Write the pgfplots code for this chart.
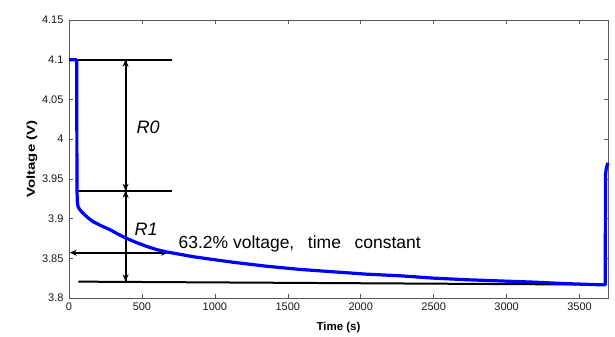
\documentclass[border=0pt]{standalone}
\usepackage{pgfplots}
\pgfplotsset{compat=1.18}
\usepackage{fontspec}
\setmainfont{Liberation Sans}
\usetikzlibrary{arrows.meta}
\begin{document}
\begin{tikzpicture}
\begin{axis}[
  scale only axis,
  width=539pt, height=278pt,
  xmin=0, xmax=3695, ymin=3.8, ymax=4.15,
  xtick={0,500,...,3500},
  ytick={3.8,3.85,3.9,3.95,4,4.05,4.1,4.15},
  yticklabels={3.8,3.85,3.9,3.95,4,4.05,4.1,4.15},
  /pgf/number format/1000 sep={},
  /pgf/number format/assume math mode=true,
  tick align=inside,
  major tick length=4pt,
  tick style={gray!70!black, line width=0.6pt},
  axis line style={gray!70!black, line width=0.8pt},
  ticklabel style={font=\fontsize{11}{12}\selectfont, text=black!90},
  xticklabel style={yshift=-1pt},
  yticklabel style={xshift=-2pt},
  xlabel={\bfseries Time (s)},
  ylabel={\scalebox{1.3}[1]{\bfseries Voltage (V)}},
  label style={font=\fontsize{11.5}{13}\selectfont},
  xlabel style={yshift=-5pt},
  ylabel style={yshift=-2pt},
  clip=false,
]
% annotation lines
\addplot[black, line width=2pt] coordinates {(50,4.1) (707,4.1)};
\addplot[black, line width=2pt] coordinates {(53,3.935) (707,3.935)};
\addplot[black, line width=2pt] coordinates {(64,3.8206) (3680,3.8168)};
\addplot[black, line width=2pt, -{Stealth[length=7pt,width=6pt]}] coordinates {(388,3.935) (388,4.1)};
\addplot[black, line width=2pt, -{Stealth[length=7pt,width=6pt]}] coordinates {(388,4.1) (388,3.935)};
\addplot[black, line width=2pt, -{Stealth[length=7pt,width=6pt]}] coordinates {(388,3.821) (388,3.935)};
\addplot[black, line width=2pt, -{Stealth[length=7pt,width=6pt]}] coordinates {(388,3.935) (388,3.821)};
\addplot[black, line width=2pt, {Stealth[length=7pt,width=6pt]}-{Stealth[length=7pt,width=6pt]}] coordinates {(5,3.857) (680,3.857)};
% measured voltage
\addplot[blue, line width=3.2pt, line join=round] coordinates {
(0,4.100) (50,4.100) (53,4.098) (54,3.990) (55,3.935) (57,3.921) (62,3.915)
(75,3.911) (100,3.906) (130,3.901) (166,3.896) (220,3.891) (281,3.886)
(340,3.880) (395,3.875) (460,3.870) (532,3.865) (600,3.861) (669,3.858)
(760,3.855) (851,3.852) (966,3.849) (1125,3.845) (1354,3.840) (1582,3.836)
(1810,3.833) (2039,3.830) (2267,3.828) (2500,3.825) (2724,3.823) (2950,3.8215)
(3180,3.820) (3420,3.818) (3660,3.8165) (3676,3.8165) (3677,3.90) (3678,3.955)
(3683,3.963) (3690,3.968) (3695,3.970)
};
\node[anchor=west, font=\fontsize{18}{20}\selectfont\itshape] at (axis cs:440,4.015) {R0};
\node[anchor=west, font=\fontsize{18}{20}\selectfont\itshape] at (axis cs:425,3.887) {R1};
\node[anchor=base west, inner sep=0pt, font=\fontsize{17.5}{19}\selectfont] at (axis cs:750,3.862) {63.2\% voltage,\hspace{0.5em} time\hspace{0.5em} constant};
\end{axis}
\useasboundingbox ([shift={(-69pt,-37pt)}]current axis.south west) rectangle ([shift={(7pt,20pt)}]current axis.north east);
\end{tikzpicture}
\end{document}
